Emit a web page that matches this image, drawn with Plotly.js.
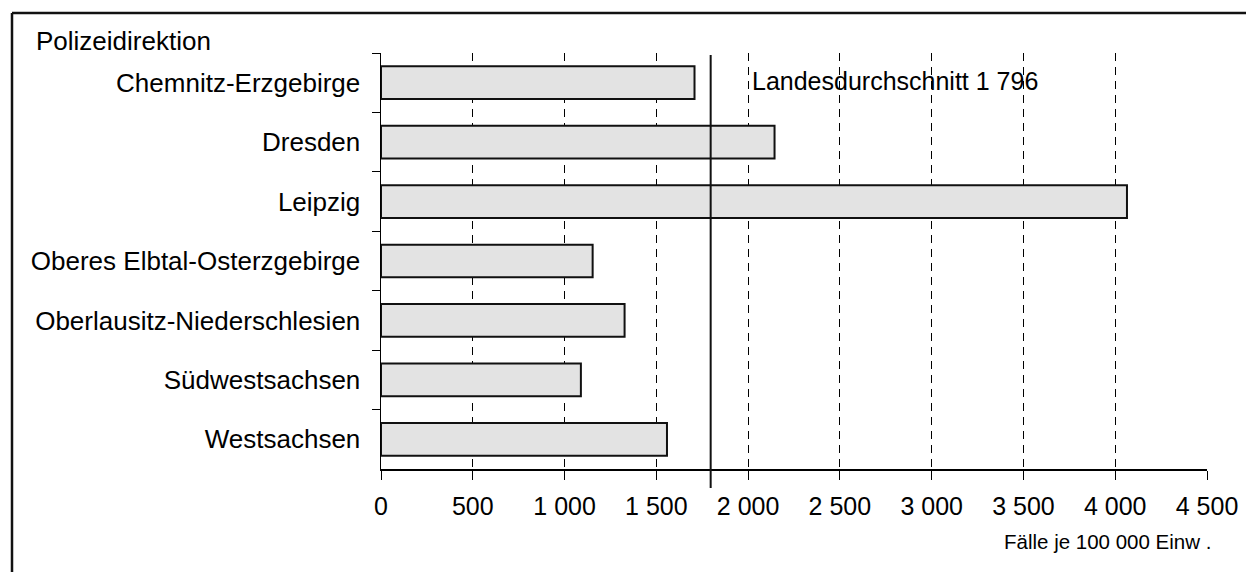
<!DOCTYPE html>
<html>
<head>
<meta charset="utf-8">
<script src="https://cdn.plot.ly/plotly-3.0.1.min.js"></script>
<style>html,body{margin:0;padding:0;background:#fff;}#chart{width:1246px;height:572px;}</style>
</head>
<body>
<div id="chart"></div>
<script>
const categories = ["Chemnitz-Erzgebirge","Dresden","Leipzig","Oberes Elbtal-Osterzgebirge","Oberlausitz-Niederschlesien","Südwestsachsen","Westsachsen"];
const values = [1708, 2144, 4064, 1153, 1327, 1089, 1558];
const average = 1796;
const averageLabel = "Landesdurchschnitt 1 796";
const tickVals = [0, 500, 1000, 1500, 2000, 2500, 3000, 3500, 4000, 4500];
const tickText = ["0", "500", "1 000", "1 500", "2 000", "2 500", "3 000", "3 500", "4 000", "4 500"];
const axisLabel = "Fälle je 100 000 Einw .";
const groupLabel = "Polizeidirektion";

const W = 1246, H = 572;
const M = {l: 381, r: 39, t: 53, b: 103};
const PW = W - M.l - M.r, PH = H - M.t - M.b;
const px = x => (x - M.l) / PW;
const py = y => (H - M.b - y) / PH;
const FONT = "Liberation Sans, Arial, sans-serif";

const trace = {
  type: "bar",
  orientation: "h",
  y: categories,
  x: values,
  marker: {color: "#e3e3e3", line: {color: "#111", width: 2}},
  width: 0.55,
  hoverinfo: "x+y"
};

const layout = {
  width: W, height: H,
  margin: M,
  paper_bgcolor: "#fff",
  plot_bgcolor: "#fff",
  showlegend: false,
  font: {family: FONT, color: "#000", size: 25},
  xaxis: {
    range: [0, 4500],
    tickvals: tickVals,
    ticktext: tickText,
    ticks: "outside",
    ticklen: 9,
    tickwidth: 1,
    tickcolor: "#000",
    ticklabelstandoff: 5,
    showline: true,
    linecolor: "#000",
    linewidth: 1.5,
    showgrid: true,
    gridcolor: "#000",
    gridwidth: 1,
    griddash: "8px,6px",
    zeroline: false,
    tickfont: {size: 25, family: FONT, color: "#000"},
    fixedrange: true
  },
  yaxis: {
    type: "category",
    autorange: "reversed",
    ticks: "outside",
    tickson: "boundaries",
    ticklen: 8,
    tickcolor: "#000",
    tickwidth: 1,
    ticklabelstandoff: 14,
    showline: true,
    linecolor: "#000",
    linewidth: 1.5,
    showgrid: false,
    zeroline: false,
    tickfont: {size: 26, family: FONT, color: "#000"},
    fixedrange: true
  },
  shapes: [
    {type: "line", xref: "x", yref: "paper", x0: average, x1: average, y0: py(488), y1: py(55), line: {color: "#111", width: 2}, layer: "above"},
    {type: "line", xref: "paper", yref: "paper", x0: px(12), x1: px(1250), y0: py(13), y1: py(13), line: {color: "#111", width: 2.5}},
    {type: "line", xref: "paper", yref: "paper", x0: px(12), x1: px(12), y0: py(13), y1: py(580), line: {color: "#111", width: 2.5}}
  ],
  annotations: [
    {text: groupLabel, xref: "paper", yref: "paper", x: px(34), y: py(41), xanchor: "left", yanchor: "middle", showarrow: false, font: {size: 26, family: FONT, color: "#000"}},
    {text: averageLabel, xref: "paper", yref: "paper", x: px(750), y: py(81), xanchor: "left", yanchor: "middle", showarrow: false, font: {size: 25, family: FONT, color: "#000"}},
    {text: axisLabel, xref: "paper", yref: "paper", x: px(1213), y: py(541), xanchor: "right", yanchor: "middle", showarrow: false, font: {size: 20.5, family: FONT, color: "#000"}}
  ]
};

Plotly.newPlot("chart", [trace], layout, {displayModeBar: false, staticPlot: true});
</script>
</body>
</html>
